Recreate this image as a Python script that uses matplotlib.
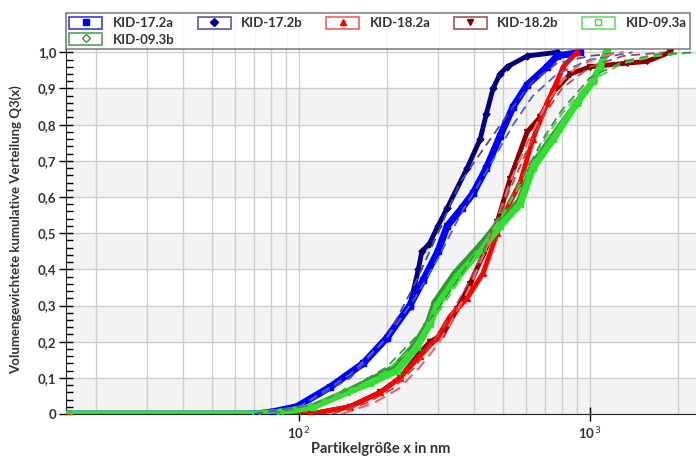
import numpy as np
import matplotlib
matplotlib.use('Agg')
from matplotlib import pyplot as plt
from matplotlib.lines import Line2D
from matplotlib.patches import Patch
from matplotlib.ticker import FixedLocator, NullFormatter

plt.rcParams['font.family'] = ['Lato', 'DejaVu Sans']

# measured Q3 curves, particle size in nm
x_172a = [16, 70, 80, 98, 128, 166, 200, 240, 267, 300, 323, 363, 396, 440, 491, 544, 608, 711, 770, 925]
q_172a = [0, 0, 0.005, 0.02, 0.075, 0.14, 0.21, 0.30, 0.37, 0.45, 0.52, 0.57, 0.61, 0.68, 0.77, 0.85, 0.91, 0.96, 0.99, 1.0]

x_172b = [16, 70, 80, 98, 128, 166, 200, 240, 257, 264, 280, 300, 323, 378, 419, 440, 464, 490, 519, 608, 770]
q_172b = [0, 0, 0.005, 0.02, 0.075, 0.14, 0.21, 0.30, 0.40, 0.45, 0.47, 0.52, 0.57, 0.68, 0.76, 0.83, 0.90, 0.94, 0.96, 0.99, 1.0]

x_182a = [16, 109, 149, 190, 222, 260, 298, 330, 378, 429, 479, 519, 575, 636, 711, 770, 808, 900]
q_182a = [0, 0, 0.02, 0.06, 0.10, 0.16, 0.21, 0.27, 0.32, 0.39, 0.50, 0.57, 0.64, 0.76, 0.86, 0.92, 0.96, 1.0]

x_182b = [16, 109, 149, 190, 222, 260, 282, 312, 349, 387, 429, 479, 531, 608, 672, 748, 854, 1000, 1340, 1570, 1880]
q_182b = [0, 0, 0.02, 0.06, 0.10, 0.17, 0.20, 0.22, 0.29, 0.36, 0.44, 0.53, 0.65, 0.78, 0.82, 0.89, 0.94, 0.96, 0.97, 0.975, 1.0]

x_093a = [16, 71, 86, 112, 146, 175, 217, 254, 282, 298, 349, 429, 491, 575, 636, 748, 900, 1024, 1080, 1140]
q_093a = [0, 0, 0.005, 0.02, 0.06, 0.085, 0.12, 0.185, 0.25, 0.30, 0.38, 0.46, 0.52, 0.58, 0.68, 0.76, 0.86, 0.92, 0.96, 1.0]

x_093b = [16, 71, 86, 110, 143, 171, 212, 248, 276, 292, 342, 421, 484, 570, 632, 745, 898, 1020, 1078, 1135]
q_093b = [0, 0, 0.005, 0.02, 0.06, 0.09, 0.13, 0.19, 0.25, 0.31, 0.39, 0.47, 0.53, 0.59, 0.69, 0.77, 0.86, 0.92, 0.96, 1.0]

# fitted curves (dashed)
xf_172a = [70, 100, 150, 200, 250, 300, 363, 440, 544, 636, 770, 1000, 1400]
qf_172a = [0, 0.02, 0.11, 0.21, 0.32, 0.43, 0.56, 0.67, 0.80, 0.88, 0.94, 0.98, 1.0]
xf_172b = [70, 100, 150, 200, 250, 300, 357, 454, 544, 636, 770, 1000, 1300]
qf_172b = [0, 0.02, 0.10, 0.21, 0.36, 0.50, 0.64, 0.76, 0.85, 0.92, 0.97, 0.99, 1.0]
xf_182a = [140, 180, 220, 260, 298, 330, 380, 430, 480, 530, 600, 700, 800, 900, 1100, 1300]
qf_182a = [0, 0.03, 0.07, 0.13, 0.19, 0.25, 0.34, 0.44, 0.54, 0.64, 0.74, 0.85, 0.92, 0.96, 0.99, 1.0]
xf_182b = [130, 170, 210, 250, 290, 330, 380, 430, 480, 530, 600, 700, 800, 1000, 1300, 1800]
qf_182b = [0, 0.03, 0.07, 0.13, 0.20, 0.27, 0.36, 0.45, 0.54, 0.62, 0.72, 0.83, 0.90, 0.96, 0.99, 1.0]
xf_093a = [80, 110, 150, 200, 250, 300, 350, 430, 500, 600, 700, 800, 1000, 1300, 1700, 2300]
qf_093a = [0, 0.02, 0.06, 0.12, 0.19, 0.28, 0.36, 0.47, 0.55, 0.66, 0.76, 0.83, 0.92, 0.97, 0.99, 1.0]
xf_093b = [80, 110, 150, 200, 250, 300, 350, 430, 500, 600, 700, 800, 1000, 1300, 1700, 2300]
qf_093b = [0, 0.025, 0.07, 0.13, 0.21, 0.29, 0.37, 0.48, 0.56, 0.67, 0.77, 0.84, 0.93, 0.975, 0.995, 1.0]

labels = ['KID-17.2a', 'KID-17.2b', 'KID-18.2a', 'KID-18.2b', 'KID-09.3a', 'KID-09.3b']
y_ticks = [0, 0.1, 0.2, 0.3, 0.4, 0.5, 0.6, 0.7, 0.8, 0.9, 1.0]
y_ticklabels = ['0', '0,1', '0,2', '0,3', '0,4', '0,5', '0,6', '0,7', '0,8', '0,9', '1,0']

fig = plt.figure(figsize=(6.96, 4.57), dpi=100)
ax = fig.add_axes([0.0948, 0.094, 0.9052, 0.877])
ax.set_xscale('log')
ax.set_xlim(15.8, 2312)
ax.set_ylim(0, 1.108)

# alternating bands
for lo in [0, 0.2, 0.4, 0.6, 0.8]:
    ax.axhspan(lo, lo + 0.1, color='#f3f3f3', zorder=0, lw=0)

ax.xaxis.set_major_locator(FixedLocator([100, 1000]))
grid_x = [m * 10**e for e in (1, 2, 3) for m in range(1, 10)]
for gx in grid_x:
    ax.axvline(gx, color='#cfcfcf', lw=1, zorder=1)
for gy in y_ticks:
    ax.axhline(gy, color='#cfcfcf', lw=1, zorder=1)

# measured data
ax.plot(x_172b, q_172b, color='#000080', lw=3.5, marker='D', ms=3.5, zorder=3)
ax.plot(x_172a, q_172a, color='#0000ff', lw=5, marker='s', ms=5, zorder=4)
ax.plot(x_182b, q_182b, color='#8b0000', lw=3.5, marker='v', ms=4.5, zorder=3)
ax.plot(x_182a, q_182a, color='#ff0000', lw=3.5, marker='^', ms=4.5, zorder=4)
ax.plot(x_093b, q_093b, color='#2e9a2e', lw=4, marker='D', ms=4.5, mfc='none', zorder=5)
ax.plot(x_093a, q_093a, color='#33dd33', lw=5, marker='s', ms=5, mfc='none', zorder=5)

# fits
dash = (5, 3)
ax.plot(xf_172b, qf_172b, color='#4a4a9a', lw=1.3, dashes=dash, zorder=6)
ax.plot(xf_172a, qf_172a, color='#4a60c8', lw=1.3, dashes=dash, zorder=6)
ax.plot(xf_182a, qf_182a, color='#e86a6a', lw=1.6, dashes=dash, zorder=6)
ax.plot(xf_182b, qf_182b, color='#b04848', lw=1.3, dashes=dash, zorder=6)
ax.plot(xf_093a, qf_093a, color='#55cc55', lw=1.3, dashes=dash, zorder=6)
ax.plot(xf_093b, qf_093b, color='#3d9a3d', lw=1.3, dashes=dash, zorder=6)

ax.set_yticks(y_ticks)
ax.set_yticklabels(y_ticklabels)
ax.yaxis.set_minor_locator(FixedLocator([v / 50 for v in range(51) if v % 5 != 0]))
ax.xaxis.set_minor_locator(FixedLocator([]))
ax.xaxis.set_minor_formatter(NullFormatter())
ax.set_xticklabels(['10$^{\\,2}$', '10$^{\\,3}$'])

ax.tick_params(axis='y', which='major', direction='inout', length=10, width=1, labelsize=9.5,
               labelcolor='#333333', pad=2)
ax.tick_params(axis='y', which='minor', direction='in', length=5, width=1)
ax.tick_params(axis='x', which='major', direction='inout', length=10, width=1, labelsize=9.5,
               labelcolor='#333333', pad=3)
for lab in ax.get_yticklabels() + ax.get_xticklabels():
    lab.set_fontweight('bold')

ax.spines['top'].set_visible(False)
ax.spines['right'].set_visible(False)
ax.spines['left'].set_color('#222222')
ax.spines['bottom'].set_color('#222222')

ax.set_xlabel('Partikelgröße x in nm', fontsize=10.5, fontweight='bold', color='#333333', labelpad=0)
ax.set_ylabel('Volumengewichtete kumulative Verteilung Q3(x)', fontsize=9.5, fontweight='bold',
              color='#333333')
ax.yaxis.set_label_coords(-0.07, 0.46)

# legend with boxed markers
box_cols = ['#3a3ae0', '#5a5a9a', '#f06060', '#a05858', '#66e066', '#55a055']
mk = [('s', '#0000ff', '#0000ff'), ('D', '#000080', '#000080'), ('^', '#ff0000', '#ff0000'),
      ('v', '#8b0000', '#8b0000'), ('s', '#33dd33', 'white'), ('D', '#2e9a2e', 'white')]
handles = []
for bc, (m, c, fc) in zip(box_cols, mk):
    box = Patch(facecolor='white', edgecolor=bc, lw=1.2)
    dot = Line2D([], [], ls='', marker=m, ms=4, color=c, mfc=fc)
    handles.append((box, dot))
# legend fills column-wise: put KID-09.3b under KID-17.2a
order = [0, 5, 1, 2, 3, 4]
leg = ax.legend([handles[i] for i in order], [labels[i] for i in order], ncol=5, loc='upper left',
                bbox_to_anchor=(0.0, 1.0, 0.99, 0.0),
                mode='expand', frameon=True, fancybox=False, edgecolor='#666666',
                prop={'family': ['Lato', 'DejaVu Sans'], 'weight': 'bold', 'size': 9.5},
                handlelength=2.5, handleheight=1.05, handletextpad=0.8, borderpad=0.25,
                labelspacing=0.3, borderaxespad=0.0, columnspacing=0.8)
leg.get_frame().set_linewidth(1.2)
leg.set_zorder(10)
for t in leg.get_texts():
    t.set_color('#333333')

fig.savefig('out.png', dpi=100)
